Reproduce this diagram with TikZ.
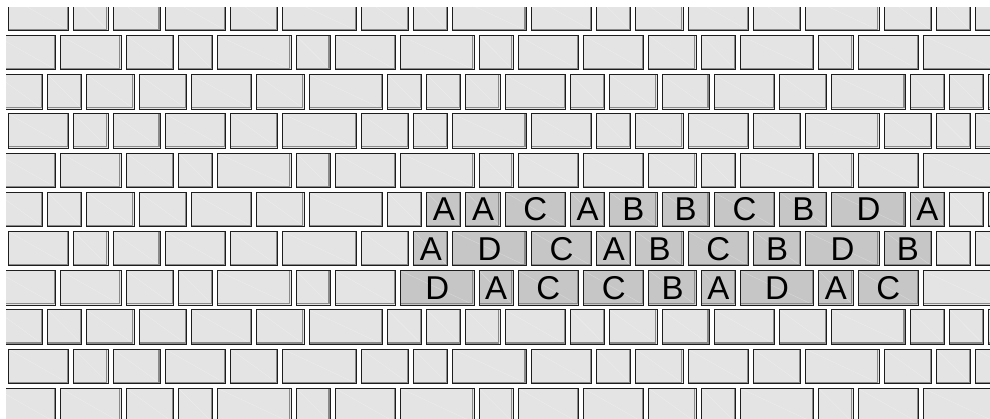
\documentclass[tikz,border=0pt]{standalone}
\usepackage{fontspec}
\setmainfont{Liberation Sans}
\definecolor{brickfill}{HTML}{E4E4E4}
\definecolor{hlfill}{HTML}{C6C6C6}
\definecolor{edgecol}{HTML}{1E1E1E}
\definecolor{bevel}{HTML}{8A8A8A}
\def\rowA{0/5,5/3,8/4,12/5,17/4,21/6,27/4,31/3,34/6,40/5,45/3,48/4,52/5,57/4,61/6,67/4,71/3,74/5}
\def\rowB{-1/5,4/5,9/4,13/3,16/6,22/3,25/5,30/6,36/3,39/5,44/5,49/4,53/3,56/6,62/3,65/5,70/6}
\def\rowC{-1/4,3/3,6/4,10/4,14/5,19/4,23/6,29/3,32/3,35/3,38/5,43/3,46/4,50/4,54/5,59/4,63/6,69/3,72/3,75/3}
\begin{document}
\begin{tikzpicture}[x=1pt,y=-1pt,
  brick/.style={draw=edgecol, line width=1pt, minimum height=34.3pt, inner sep=0pt,
    anchor=north west, text=black, font=\fontsize{33}{33}\selectfont,
    path picture={
      \draw[white, opacity=0.3, line width=0.4pt]
        (path picture bounding box.north west) -- (path picture bounding box.south east);
      \draw[bevel, line width=1.1pt]
        ([xshift=-1.3pt]path picture bounding box.north east)
        -- ([xshift=-1.3pt,yshift=1.3pt]path picture bounding box.south east)
        -- ([yshift=1.3pt]path picture bounding box.south west);
    }},
  plain/.style={fill=brickfill},
  hl/.style={fill=hlfill}]
\useasboundingbox (0,0) rectangle (990,418);
\clip (6,7) rectangle (990,418);
% plain rows
\foreach \r in {0,1,2,3,4,8,9,10}{
  \pgfmathtruncatemacro\t{mod(\r,3)}
  \ifcase\t \let\lst\rowA \or \let\lst\rowB \or \let\lst\rowC \fi
  \foreach \s/\w [count=\i] in \lst {
    \node[brick,plain,minimum width={\w*13.07-5}] (b\r-\i) at ({8+\s*13.07},{-4.2+39.21*\r}) {};
  }
}
% row 5
\foreach \s/\w/\st/\l [count=\i] in {-1/4/plain/{},3/3/plain/{},6/4/plain/{},10/4/plain/{},14/5/plain/{},19/4/plain/{},23/6/plain/{},29/3/plain/{},32/3/hl/A,35/3/hl/A,38/5/hl/C,43/3/hl/A,46/4/hl/B,50/4/hl/B,54/5/hl/C,59/4/hl/B,63/6/hl/D,69/3/hl/A,72/3/plain/{},75/3/plain/{}} {
  \node[brick,\st,minimum width={\w*13.07-5}] (b5-\i) at ({8+\s*13.07},{-4.2+39.21*5}) {\l};
}
% row 6
\foreach \s/\w/\st/\l [count=\i] in {0/5/plain/{},5/3/plain/{},8/4/plain/{},12/5/plain/{},17/4/plain/{},21/6/plain/{},27/4/plain/{},31/3/hl/A,34/6/hl/D,40/5/hl/C,45/3/hl/A,48/4/hl/B,52/5/hl/C,57/4/hl/B,61/6/hl/D,67/4/hl/B,71/3/plain/{},74/5/plain/{}} {
  \node[brick,\st,minimum width={\w*13.07-5}] (b6-\i) at ({8+\s*13.07},{-4.2+39.21*6}) {\l};
}
% row 7
\foreach \s/\w/\st/\l [count=\i] in {-1/5/plain/{},4/5/plain/{},9/4/plain/{},13/3/plain/{},16/6/plain/{},22/3/plain/{},25/5/plain/{},30/6/hl/D,36/3/hl/A,39/5/hl/C,44/5/hl/C,49/4/hl/B,53/3/hl/A,56/6/hl/D,62/3/hl/A,65/5/hl/C,70/6/plain/{}} {
  \node[brick,\st,minimum width={\w*13.07-5}] (b7-\i) at ({8+\s*13.07},{-4.2+39.21*7}) {\l};
}
\end{tikzpicture}
\end{document}
